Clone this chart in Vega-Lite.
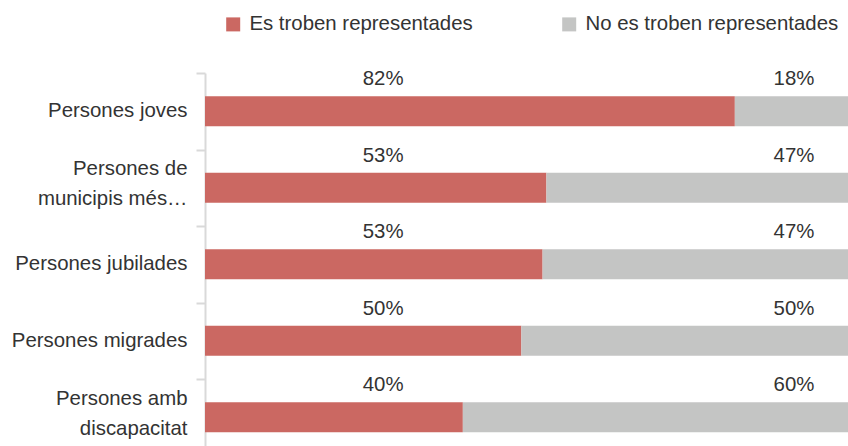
{
  "$schema": "https://vega.github.io/schema/vega-lite/v6.json",
  "autosize": {"type": "none"},
  "padding": {"left": 205, "top": 73, "right": 0, "bottom": 0},
  "width": 643,
  "height": 373,
  "background": "white",
  "config": {
    "view": {"stroke": null},
    "font": "Liberation Sans",
    "text": {"font": "Liberation Sans"}
  },
  "data": {
    "values": [
      {"grup": "Persones joves", "serie": "Es troben representades", "valor": 82.4, "etiqueta": "82%"},
      {"grup": "Persones joves", "serie": "No es troben representades", "valor": 17.6, "etiqueta": "18%"},
      {"grup": "Persones de municipis més…", "serie": "Es troben representades", "valor": 53.1, "etiqueta": "53%"},
      {"grup": "Persones de municipis més…", "serie": "No es troben representades", "valor": 46.9, "etiqueta": "47%"},
      {"grup": "Persones jubilades", "serie": "Es troben representades", "valor": 52.5, "etiqueta": "53%"},
      {"grup": "Persones jubilades", "serie": "No es troben representades", "valor": 47.5, "etiqueta": "47%"},
      {"grup": "Persones migrades", "serie": "Es troben representades", "valor": 49.2, "etiqueta": "50%"},
      {"grup": "Persones migrades", "serie": "No es troben representades", "valor": 50.8, "etiqueta": "50%"},
      {"grup": "Persones amb discapacitat", "serie": "Es troben representades", "valor": 40.1, "etiqueta": "40%"},
      {"grup": "Persones amb discapacitat", "serie": "No es troben representades", "valor": 59.9, "etiqueta": "60%"}
    ]
  },
  "encoding": {
    "y": {
      "field": "grup",
      "type": "nominal",
      "sort": ["Persones joves", "Persones de municipis més…", "Persones jubilades", "Persones migrades", "Persones amb discapacitat"],
      "scale": {"range": [0, 382.5], "paddingInner": 0, "paddingOuter": 0},
      "axis": {
        "title": null,
        "labelExpr": "indexof(datum.value, 'municipis') >= 0 ? ['Persones de', 'municipis més…'] : indexof(datum.value, 'discapacitat') >= 0 ? ['Persones amb', 'discapacitat'] : datum.value",
        "labelFont": "Liberation Sans",
        "labelFontSize": 20.4,
        "labelColor": "#333333",
        "labelLineHeight": 30,
        "labelPadding": 9,
        "labelLimit": 0,
        "tickOffset": -38.25,
        "labelOffset": {
          "condition": {"test": "indexof(datum.value, 'municipis') >= 0 || indexof(datum.value, 'discapacitat') >= 0", "value": 19},
          "value": 37.5
        },
        "tickSize": 9,
        "tickWidth": 2,
        "tickColor": "#d9d9d9",
        "domainColor": "#d9d9d9",
        "domainWidth": 2,
        "grid": false
      }
    }
  },
  "layer": [
    {
      "mark": {"type": "bar", "size": 30},
      "encoding": {
        "x": {"field": "valor", "type": "quantitative", "stack": "zero", "scale": {"domain": [0, 100], "nice": false}, "axis": null},
        "color": {
          "field": "serie",
          "type": "nominal",
          "scale": {"domain": ["Es troben representades", "No es troben representades"], "range": ["#cb6862", "#c4c5c4"]},
          "legend": {
            "title": null,
            "orient": "none",
            "direction": "horizontal",
            "legendX": 18,
            "legendY": -59,
            "symbolType": "square",
            "symbolSize": 196,
            "symbolStrokeWidth": 0,
            "labelFont": "Liberation Sans",
            "labelFontSize": 20.4,
            "labelColor": "#333333",
            "labelOffset": 6,
            "labelLimit": 0,
            "columnPadding": 86
          }
        }
      }
    },
    {
      "transform": [{"filter": "datum.serie == 'Es troben representades'"}],
      "mark": {"type": "text", "fontSize": 20.4, "color": "#333333", "baseline": "middle", "align": "center", "dy": -32},
      "encoding": {
        "x": {"datum": 27.7, "type": "quantitative"},
        "text": {"field": "etiqueta"}
      }
    },
    {
      "transform": [{"filter": "datum.serie == 'No es troben representades'"}],
      "mark": {"type": "text", "fontSize": 20.4, "color": "#333333", "baseline": "middle", "align": "center", "dy": -32},
      "encoding": {
        "x": {"datum": 91.6, "type": "quantitative"},
        "text": {"field": "etiqueta"}
      }
    }
  ]
}
